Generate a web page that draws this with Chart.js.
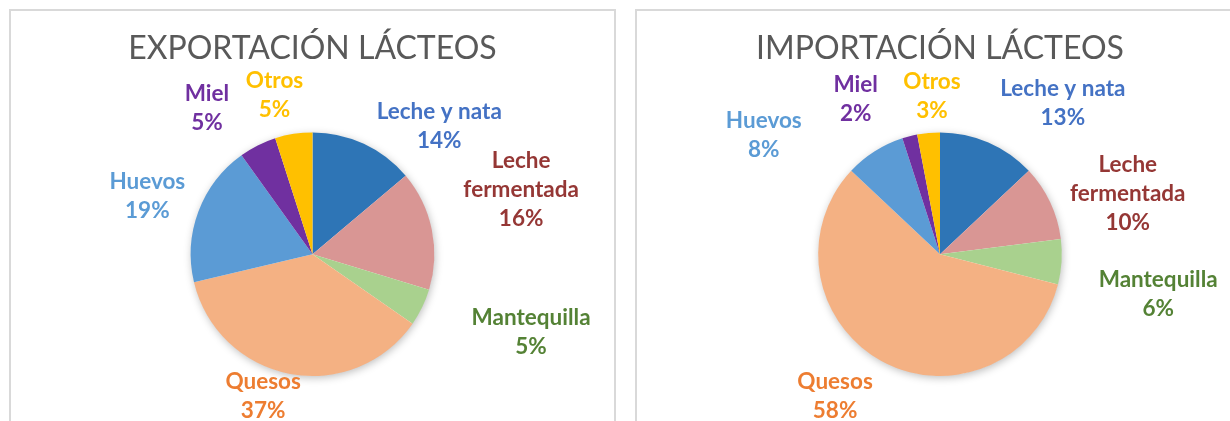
<!DOCTYPE html>
<html>
<head>
<meta charset="utf-8">
<script src="https://cdn.jsdelivr.net/npm/chart.js@4.4.1/dist/chart.umd.min.js"></script>
<style>
  html, body { margin: 0; padding: 0; background: #ffffff; width: 1230px; height: 421px; overflow: hidden; }
  .panel { position: absolute; box-sizing: border-box; border: 2px solid #D9D9D9; background: #ffffff; overflow: hidden; }
  #p1 { left: 9px; top: 9px; width: 607px; height: 430px; }
  #p2 { left: 635px; top: 9px; width: 620px; height: 430px; }
  canvas { position: absolute; left: 0; top: 0; }
</style>
</head>
<body>
<div class="panel" id="p1"><canvas id="c1" width="603" height="410"></canvas></div>
<div class="panel" id="p2"><canvas id="c2" width="606" height="410"></canvas></div>
<script>
// ---- data ----
const categories = ['Leche y nata', 'Leche fermentada', 'Mantequilla', 'Quesos', 'Huevos', 'Miel', 'Otros'];
const exportValues = [14, 16, 5, 37, 19, 5, 5];
const importValues = [13, 10, 6, 58, 8, 2, 3];
const exportTitle = 'EXPORTACIÓN LÁCTEOS';
const importTitle = 'IMPORTACIÓN LÁCTEOS';

// ---- styles ----
const sliceColors = ['#2E75B6', '#D99694', '#A9D18E', '#F4B183', '#5B9BD5', '#7030A0', '#FFC000'];
const labelColors = ['#4472C4', '#953735', '#548235', '#ED7D31', '#5B9BD5', '#7030A0', '#FFC000'];
// label placement (like datalabels align/offset): angular shift from slice mid-angle (deg), distance as ratio of radius
const exportLabelShift = [19.8, -5.7, -6.3, 8.5, -1.3, -9.1, -4.5];
const exportLabelDist  = [1.478, 1.794, 1.904, 1.233, 1.436, 1.480, 1.344];
const importLabelShift = [15.7, 7.4, 6.8, 7.7, -23.6, -14.1, 2.5];
const importLabelDist  = [1.599, 1.619, 1.821, 1.448, 1.745, 1.451, 1.301];

const LABEL_FONT = 'bold 22.5px Lato';
const LABEL_LINE = 29;
const LABEL_WRAP = 150;

function wrapText(ctx, text, maxW) {
  const words = text.split(' ');
  const lines = [];
  let cur = '';
  for (const w of words) {
    const test = cur ? cur + ' ' + w : w;
    if (cur && ctx.measureText(test).width > maxW) { lines.push(cur); cur = w; }
    else cur = test;
  }
  if (cur) lines.push(cur);
  return lines;
}

const pieDecor = {
  id: 'pieDecor',
  beforeDatasetsDraw(chart) {
    const meta = chart.getDatasetMeta(0);
    if (!meta.data.length) return;
    const p = meta.data[0].getProps(['x', 'y', 'outerRadius'], true);
    const ctx = chart.ctx;
    ctx.save();
    ctx.shadowColor = 'rgba(0,0,0,0.28)';
    ctx.shadowBlur = 8;
    ctx.shadowOffsetX = 1;
    ctx.shadowOffsetY = 2;
    ctx.fillStyle = '#ffffff';
    ctx.beginPath();
    ctx.arc(p.x, p.y, p.outerRadius - 0.5, 0, Math.PI * 2);
    ctx.fill();
    ctx.restore();
  },
  afterDatasetsDraw(chart, args, opts) {
    const meta = chart.getDatasetMeta(0);
    const ds = chart.data.datasets[0];
    const ctx = chart.ctx;
    ctx.save();
    ctx.font = LABEL_FONT;
    ctx.textAlign = 'center';
    ctx.textBaseline = 'middle';
    meta.data.forEach((arc, i) => {
      const p = arc.getProps(['x', 'y', 'startAngle', 'endAngle', 'outerRadius'], true);
      const mid = (p.startAngle + p.endAngle) / 2 + (opts.shift[i] || 0) * Math.PI / 180;
      const d = p.outerRadius * (opts.dist[i] || 1.3);
      const cx = p.x + Math.cos(mid) * d;
      const cy = p.y + Math.sin(mid) * d;
      const lines = wrapText(ctx, chart.data.labels[i], LABEL_WRAP);
      lines.push(ds.data[i] + '%');
      const top = cy - (lines.length - 1) * LABEL_LINE / 2;
      ctx.fillStyle = opts.colors[i];
      lines.forEach((ln, k) => ctx.fillText(ln, cx, top + k * LABEL_LINE));
    });
    ctx.restore();
  }
};

function makePie(id, title, values, shift, dist) {
  return new Chart(document.getElementById(id), {
    type: 'pie',
    data: {
      labels: categories,
      datasets: [{
        data: values,
        backgroundColor: sliceColors,
        borderWidth: 0,
        hoverOffset: 0,
        offset: 0
      }]
    },
    options: {
      responsive: false,
      animation: false,
      layout: { padding: { top: 0, bottom: 45, left: 0, right: 0 } },
      plugins: {
        legend: { display: false },
        tooltip: { enabled: false },
        title: {
          display: true,
          text: title,
          color: '#595959',
          font: { family: 'Lato', size: 32, weight: 'normal', lineHeight: 1.2 },
          padding: { top: 18, bottom: 65 }
        },
        pieDecor: { colors: labelColors, shift: shift, dist: dist }
      }
    },
    plugins: [pieDecor]
  });
}

makePie('c1', exportTitle, exportValues, exportLabelShift, exportLabelDist);
makePie('c2', importTitle, importValues, importLabelShift, importLabelDist);
</script>
</body>
</html>
